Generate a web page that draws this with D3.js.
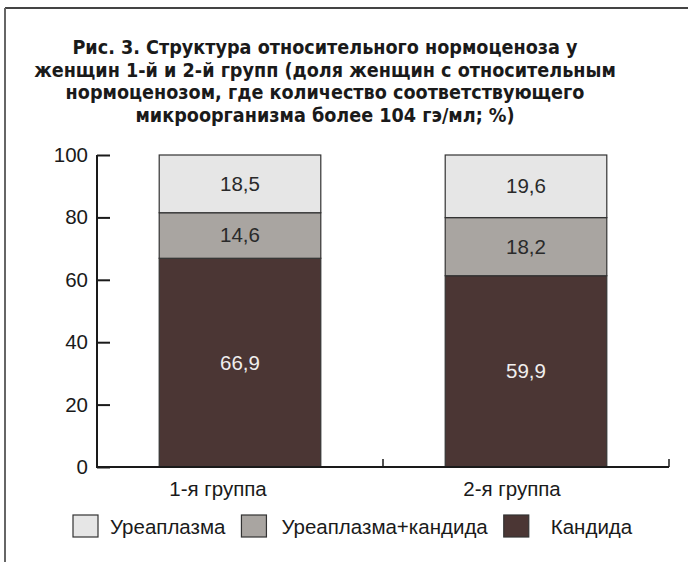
<!DOCTYPE html>
<html><head><meta charset="utf-8">
<script src="https://cdn.jsdelivr.net/npm/d3@7"></script>
<style>body{margin:0;background:#fff}svg{display:block}</style>
</head><body>
<script>
const titleLines = ["Рис. 3. Структура относительного нормоценоза у",
  "женщин 1-й  и 2-й групп (доля женщин с относительным",
  "нормоценозом, где количество соответствующего",
  "микроорганизма более 104 гэ/мл; %)"];
const categories = ["1-я группа", "2-я группа"];
const seriesNames = ["Кандида", "Уреаплазма+кандида", "Уреаплазма"];
const candida = [66.9, 59.9];
const ureaCandida = [14.6, 18.2];
const urea = [18.5, 19.6];
const yTicks = [0, 20, 40, 60, 80, 100];
const legendOrder = ["Уреаплазма", "Уреаплазма+кандида", "Кандида"];

const colors = {"Кандида": "#4b3634", "Уреаплазма+кандида": "#a9a5a1", "Уреаплазма": "#e6e6e6"};
const labelColors = {"Кандида": "#f0eeee", "Уреаплазма+кандида": "#2a2a2a", "Уреаплазма": "#2a2a2a"};

const W = 688, H = 562;
const svg = d3.select("body").append("svg").attr("width", W).attr("height", H);
const font = "'Liberation Sans', Arial, sans-serif";
const fs = 20.5;

// frame
svg.append("line").attr("x1", 5).attr("x2", W).attr("y1", 8).attr("y2", 8).attr("stroke", "#444").attr("stroke-width", 2.2);
svg.append("line").attr("x1", 5).attr("x2", 5).attr("y1", 8).attr("y2", H).attr("stroke", "#666").attr("stroke-width", 2);

// title
svg.append("g").selectAll("text").data(titleLines).join("text")
  .attr("x", 325).attr("y", (d, i) => 54 + i * 22.5)
  .attr("text-anchor", "middle")
  .attr("font-family", "'Liberation Sans Narrow', 'DejaVu Sans Condensed', Arial, sans-serif")
  .attr("font-weight", "bold").attr("font-size", 19.6).attr("fill", "#1a1a1a")
  .text(d => d);

const x = d3.scaleBand().domain(categories).range([97, 669]).paddingInner(0).paddingOuter(0);
const y = d3.scaleLinear().domain([0, 100]).range([467, 155]);
const yFrac = d3.scaleLinear().domain([0, 1]).range([467, 155]);
const barW = x.bandwidth() * 0.565;

const rows = categories.map((c, i) => ({cat: c, "Кандида": candida[i], "Уреаплазма+кандида": ureaCandida[i], "Уреаплазма": urea[i]}));
// bars are drawn as shares of 100% as in the original figure
const stacked = d3.stack().keys(seriesNames).offset(d3.stackOffsetExpand)(rows);

const gBars = svg.append("g");
stacked.forEach(layer => {
  layer.forEach(seg => {
    const cx = x(seg.data.cat) + x.bandwidth() / 2;
    gBars.append("rect")
      .attr("x", cx - barW / 2).attr("width", barW)
      .attr("y", yFrac(seg[1])).attr("height", yFrac(seg[0]) - yFrac(seg[1]))
      .attr("fill", colors[layer.key]).attr("stroke", "#333").attr("stroke-width", 1.2);
    gBars.append("text")
      .attr("x", cx).attr("y", (yFrac(seg[0]) + yFrac(seg[1])) / 2 + 7)
      .attr("text-anchor", "middle").attr("font-family", font).attr("font-size", fs)
      .attr("fill", labelColors[layer.key])
      .text(d3.format(".1f")(seg.data[layer.key]).replace(".", ","));
  });
});

// y axis
const yAxis = d3.axisRight(y).tickValues(yTicks).tickSize(13).tickFormat("");
const gy = svg.append("g").attr("transform", "translate(97,0)").call(yAxis);
gy.select(".domain").attr("stroke", "#1a1a1a").attr("stroke-width", 2).attr("d", `M0,${y(100)}V${y(0)}`);
gy.selectAll(".tick line").attr("stroke", "#1a1a1a").attr("stroke-width", 2);
svg.append("g").selectAll("text").data(yTicks).join("text")
  .attr("x", 88).attr("y", d => y(d) + 7).attr("text-anchor", "end")
  .attr("font-family", font).attr("font-size", fs).attr("fill", "#1a1a1a").text(d => d);

// x axis
svg.append("line").attr("x1", 96).attr("x2", 669).attr("y1", y(0)).attr("y2", y(0)).attr("stroke", "#1a1a1a").attr("stroke-width", 2);
svg.append("g").selectAll("line").data(categories).join("line")
  .attr("x1", d => x(d) + x.bandwidth()).attr("x2", d => x(d) + x.bandwidth())
  .attr("y1", y(0)).attr("y2", y(0) - 8).attr("stroke", "#1a1a1a").attr("stroke-width", 1.5);
svg.append("g").selectAll("text").data(categories).join("text")
  .attr("x", (d, i) => x(d) + x.bandwidth() / 2 - (i === 0 ? 22 : 14)).attr("y", 496)
  .attr("text-anchor", "middle").attr("font-family", font).attr("font-size", fs).attr("fill", "#1a1a1a")
  .text(d => d);

// legend
let lx = 73;
const gL = svg.append("g");
const textGaps = [37, 40, 47];
legendOrder.forEach((name, i) => {
  gL.append("rect").attr("x", lx).attr("y", 515).attr("width", 25).attr("height", 22)
    .attr("fill", colors[name]).attr("stroke", "#333").attr("stroke-width", 1.2);
  const t = gL.append("text").attr("x", lx + textGaps[i]).attr("y", 534)
    .attr("font-family", font).attr("font-size", fs).attr("fill", "#1a1a1a").text(name);
  lx = lx + textGaps[i] + t.node().getComputedTextLength() + 16;
});
</script>
</body></html>
